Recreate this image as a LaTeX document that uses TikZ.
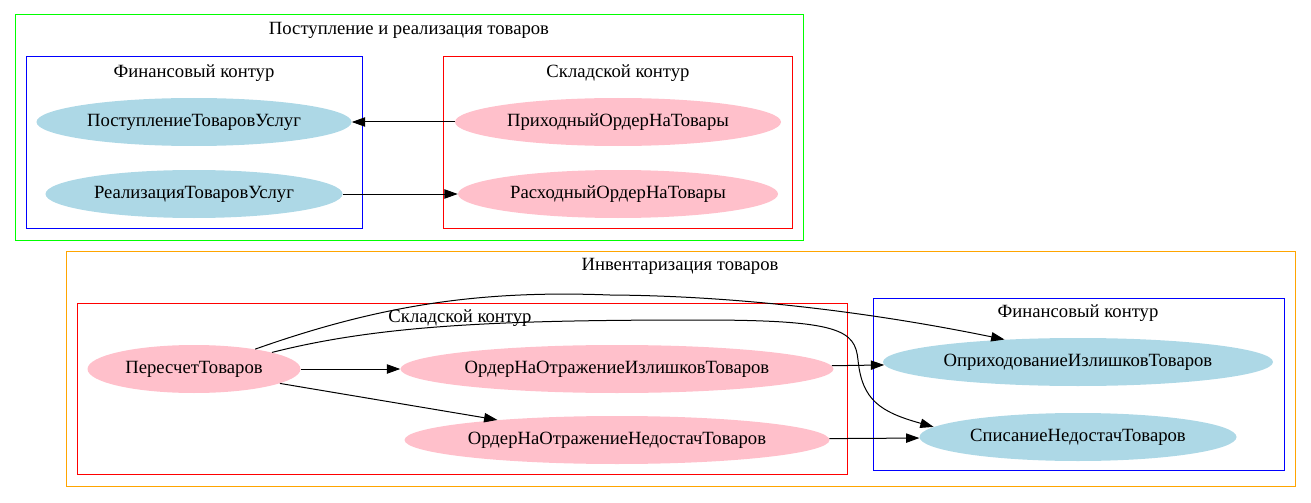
\documentclass[tikz,border=0pt]{standalone}
\usepackage{fontspec}
\setmainfont{Liberation Serif}
\usetikzlibrary{shapes.geometric,arrows.meta}
\definecolor{finblue}{HTML}{ADD8E6}
\definecolor{storepink}{HTML}{FFC0CB}
\definecolor{gvgreen}{HTML}{00FF00}
\definecolor{gvorange}{HTML}{FFA500}
\tikzset{
  doc/.style={ellipse, inner sep=0pt, minimum height=36pt, font=\fontsize{14}{16}\selectfont},
  fin/.style={doc, fill=finblue},
  store/.style={doc, fill=storepink},
  cluster/.style={line width=0.75pt},
  ctitle/.style={inner sep=0pt, font=\fontsize{14}{16}\selectfont},
  edge/.style={line width=0.75pt, -{Triangle[length=10pt,width=7pt]}}
}
\begin{document}
\begin{tikzpicture}[x=0.75pt, y=-0.75pt]
        \useasboundingbox (0,0) rectangle (1311,503);
        % upper group
        \draw[cluster, gvgreen] (15,15) rectangle (803,240);
        \node[ctitle] (titleA) at (409,30) {Поступление и реализация товаров};
        \draw[cluster, blue] (26,57) rectangle (362,228);
        \node[ctitle] (finA) at (194,73) {Финансовый контур};
        \draw[cluster, red] (443,57) rectangle (792,228);
        \node[ctitle] (storeA) at (618,73) {Складской контур};
        \node[fin, minimum width=236.25pt] (receipt) at (194,122) {ПоступлениеТоваровУслуг};
        \node[fin, minimum width=222.75pt] (sale) at (194,194) {РеализацияТоваровУслуг};
        \node[store, minimum width=244.5pt] (inorder) at (618,122) {ПриходныйОрдерНаТовары};
        \node[store, minimum width=240pt] (outorder) at (618,194) {РасходныйОрдерНаТовары};
        \draw[edge] (inorder) -- (receipt);
        \draw[edge] (sale) -- (outorder);
        % lower group
        \draw[cluster, gvorange] (66,251) rectangle (1295,486);
        \node[ctitle] (titleB) at (680,266) {Инвентаризация товаров};
        \draw[cluster, red] (77,303) rectangle (847,474);
        \node[ctitle] (storeB) at (460,318) {Складской контур};
        \draw[cluster, blue] (873,298) rectangle (1284,470);
        \node[ctitle] (finB) at (1078,313) {Финансовый контур};
        \node[store, minimum width=159.75pt] (recount) at (194,369) {ПересчетТоваров};
        \node[store, minimum width=324.75pt] (surplus) at (617,369) {ОрдерНаОтражениеИзлишковТоваров};
        \node[store, minimum width=318.75pt] (shortage) at (617,440) {ОрдерНаОтражениеНедостачТоваров};
        \node[fin, minimum width=292.5pt] (income) at (1078,362) {ОприходованиеИзлишковТоваров};
        \node[fin, minimum width=237.75pt] (writeoff) at (1078,437) {СписаниеНедостачТоваров};
        \draw[edge] (recount) -- (surplus);
        \draw[edge] (recount) -- (shortage);
        \draw[edge] (surplus) -- (income);
        \draw[edge] (shortage) -- (writeoff);
        \draw[edge] (recount.18) .. controls (380,305) and (480,290) .. (610,295)
          .. controls (760,296) and (900,318) .. (income.163);
        \draw[edge] (recount.12) .. controls (380,325) and (500,320) .. (700,320)
          .. controls (840,320) and (855,330) .. (858,360)
          .. controls (862,400) and (880,412) .. (writeoff.176);
      \end{tikzpicture}
\end{document}
